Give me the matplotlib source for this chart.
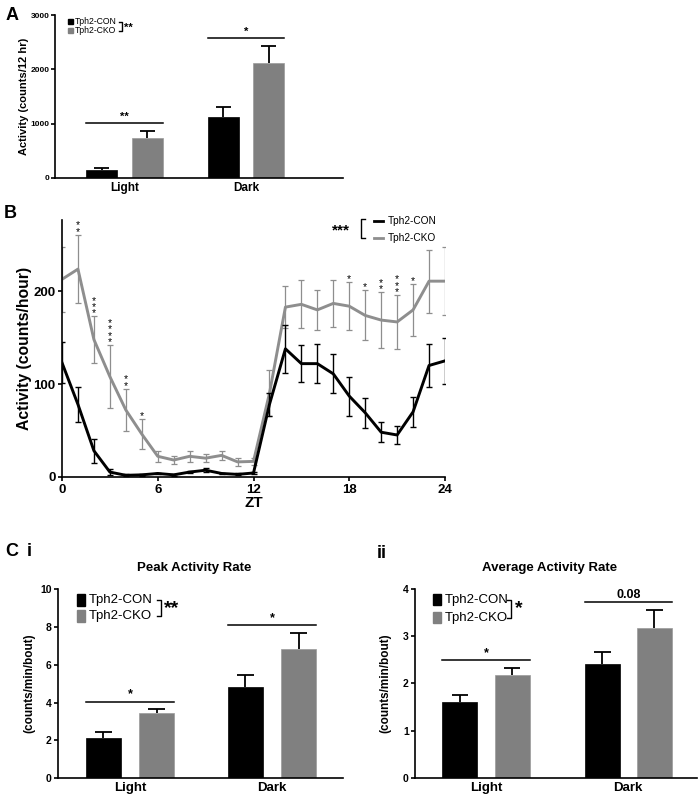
import matplotlib
matplotlib.use("Agg")
import matplotlib.pyplot as plt
from matplotlib.patches import Rectangle
from matplotlib.lines import Line2D
import numpy as np

plt.rcParams['font.family'] = ['Liberation Sans', 'DejaVu Sans']

# ---------------- data ----------------
groups = ["Light", "Dark"]
series = ["Tph2-CON", "Tph2-CKO"]

# Panel A: activity (counts/12 hr)
a_con = [141, 1120]
a_con_sem = [43, 190]
a_cko = [735, 2125]
a_cko_sem = [122, 300]
a_sig = ["**", "*"]
a_sig_y = [1010, 2572]

# Panel B: hourly activity
zt = list(range(25))
b_con = [123, 78, 28, 5, 1.5, 2, 3.5, 2, 5, 7, 3.5, 2.5, 4, 78,
         138, 122, 122, 111, 87, 69, 48, 45, 70, 120, 125]
b_con_sem = [22, 19, 13, 3, 1, 1, 1, 1, 1.5, 2, 1, 1, 1.5, 12,
             26, 20, 21, 21, 21, 16, 11, 10, 16, 23, 25]
b_cko = [213, 224, 148, 108, 72, 46, 22, 18, 22, 20, 23, 16, 16.5, 90,
         183, 186, 180, 187, 184, 174, 169, 167, 180, 211, 211]
b_cko_sem = [35, 37, 25, 34, 23, 16, 6, 4, 6, 4, 5, 4, 4, 25,
             23, 26, 22, 25, 26, 27, 30, 29, 28, 34, 37]
b_sig_x = [1, 2, 3, 4, 5, 18, 19, 20, 21, 22]
b_sig = ["**", "***", "****", "**", "*", "*", "*", "**", "***", "*"]
b_overall = "***"

# Panel C i: peak activity rate
ci_con = [2.15, 4.84]
ci_con_sem = [0.28, 0.60]
ci_cko = [3.43, 6.85]
ci_cko_sem = [0.25, 0.84]
ci_sig = ["*", "*"]
ci_sig_y = [4.03, 8.08]
ci_overall = "**"

# Panel C ii: average activity rate
cii_con = [1.61, 2.40]
cii_con_sem = [0.14, 0.26]
cii_cko = [2.18, 3.18]
cii_cko_sem = [0.14, 0.37]
cii_sig = ["*", "0.08"]
cii_sig_y = [2.49, 3.72]
cii_overall = "*"

BLACK = "#000000"
GRAY = "#808080"
LGRAY = "#8e8e8e"

W, H = 700, 797
fig = plt.figure(figsize=(W / 100, H / 100), dpi=100)


def P(x, y):
    return (x / W, 1 - y / H)


def add_ax(l, t, r, b):
    return fig.add_axes([l / W, 1 - b / H, (r - l) / W, (b - t) / H])


def style(ax, tick_fs, lw=1.2):
    for s in ["top", "right"]:
        ax.spines[s].set_visible(False)
    for s in ["left", "bottom"]:
        ax.spines[s].set_linewidth(lw)
    ax.tick_params(direction="out", width=lw, length=3, labelsize=tick_fs, pad=1.5)
    for lab in ax.get_xticklabels() + ax.get_yticklabels():
        lab.set_fontweight("bold")


def bar_panel(ax, con, con_sem, cko, cko_sem, offset, width, xlim, ylim, yticks,
              sig, sig_y, sig_fs, tick_fs, xtick_fs):
    x = np.arange(len(groups))
    capw = width * 0.24
    for xs, vals, sems, col, ec in [(x - offset, con, con_sem, BLACK, BLACK),
                                    (x + offset, cko, cko_sem, GRAY, "#9a9a9a")]:
        ax.bar(xs, vals, width, color=col, edgecolor=ec, lw=0.5, zorder=2)
        tops = np.array(vals) + np.array(sems)
        ax.vlines(xs, vals, tops, color=BLACK, lw=1.3, zorder=1)
        ax.hlines(tops, xs - capw, xs + capw, color=BLACK, lw=1.3, zorder=1)
    for i, (s, yy) in enumerate(zip(sig, sig_y)):
        ax.plot([x[i] - offset - width / 2, x[i] + offset + width / 2], [yy, yy],
                color=BLACK, lw=1.1, clip_on=False)
        ax.annotate(s, (x[i], yy), xytext=(0, 1), textcoords="offset points",
                    ha="center", va="bottom", fontsize=sig_fs, fontweight="bold")
    ax.set_xlim(*xlim)
    ax.set_ylim(*ylim)
    ax.set_yticks(yticks)
    ax.set_xticks(x)
    ax.set_xticklabels(groups)
    style(ax, tick_fs)
    ax.tick_params(axis="x", length=0, labelsize=xtick_fs, pad=3)
    for lab in ax.get_xticklabels():
        lab.set_fontweight("bold")


def bar_legend(x_sq, sq_w, sq_h, y_rows, x_text, x_br, x_star, y_star, fs, star, star_fs):
    for yy, col, name in zip(y_rows, [BLACK, GRAY], series):
        fig.patches.append(Rectangle(P(x_sq, yy + sq_h / 2), sq_w / W, sq_h / H,
                                     transform=fig.transFigure, color=col))
        fig.text(*P(x_text, yy), name, fontsize=fs, va="center", ha="left")
    xs = [x_br - 4, x_br, x_br, x_br - 4]
    ys = [y_rows[0], y_rows[0], y_rows[1], y_rows[1]]
    fig.lines.append(Line2D([v / W for v in xs], [1 - v / H for v in ys],
                            transform=fig.transFigure, color=BLACK, lw=1.0))
    fig.text(*P(x_star, y_star), star, fontsize=star_fs, fontweight="bold",
             va="center", ha="left")


# ---------------- Panel A ----------------
axA = add_ax(55, 15, 343, 178)
bar_panel(axA, a_con, a_con_sem, a_cko, a_cko_sem, offset=0.1875, width=0.255,
          xlim=(-0.572, 1.798), ylim=(0, 3000), yticks=[0, 1000, 2000, 3000],
          sig=a_sig, sig_y=a_sig_y, sig_fs=8, tick_fs=6, xtick_fs=8.5)
axA.tick_params(axis="y", pad=1)
axA.set_ylabel("Activity (counts/12 hr)", fontsize=8, fontweight="bold")
axA.yaxis.set_label_coords(-0.092, 0.5)
bar_legend(x_sq=68, sq_w=4.5, sq_h=5, y_rows=[21.5, 30.5], x_text=75, x_br=122.5,
           x_star=124.5, y_star=27.5, fs=6.2, star="**", star_fs=8)
fig.text(*P(6, 16), "A", fontsize=13, fontweight="bold", va="center", ha="left")

# ---------------- Panel B ----------------
axB = add_ax(62, 220, 445, 476.7)
axB.errorbar(zt, b_cko, yerr=b_cko_sem, color=LGRAY, lw=2.1, elinewidth=0.9,
             capsize=2.5, capthick=0.9, zorder=2)
axB.errorbar(zt, b_con, yerr=b_con_sem, color=BLACK, lw=2.1, elinewidth=1.0,
             capsize=2.5, capthick=1.0, zorder=3)
for xx, s in zip(b_sig_x, b_sig):
    top = b_cko[xx] + b_cko_sem[xx]
    axB.annotate("\n".join(s), (xx, top), xytext=(0, -1.5), textcoords="offset points",
                 ha="center", va="bottom", fontsize=7.5, linespacing=0.55)
axB.set_xlim(0, 24)
axB.set_ylim(0, 277)
axB.set_xticks([0, 6, 12, 18, 24])
axB.set_yticks([0, 100, 200])
style(axB, 9.5)
axB.tick_params(axis="x", pad=2)
axB.set_ylabel("Activity (counts/hour)", fontsize=11.3, fontweight="bold")
axB.yaxis.set_label_coords(-0.079, 0.5)
axB.set_xlabel("ZT", fontsize=11, fontweight="bold")
axB.xaxis.set_label_coords(0.5, -0.077)
# legend B
fig.text(*P(332, 230), b_overall, fontsize=11, fontweight="bold", va="center", ha="left")
fig.lines.append(Line2D([365 / W, 360.7 / W, 360.7 / W, 365 / W],
                        [1 - 219 / H, 1 - 219 / H, 1 - 238.3 / H, 1 - 238.3 / H],
                        transform=fig.transFigure, color=BLACK, lw=1.0))
for yy, col, name in zip([220.5, 237.7], [BLACK, LGRAY], series):
    fig.lines.append(Line2D([374 / W, 383 / W], [1 - yy / H, 1 - yy / H],
                            transform=fig.transFigure, color=col, lw=2.0))
    fig.text(*P(388, yy), name, fontsize=7.3, va="center", ha="left")
fig.text(*P(4, 213), "B", fontsize=13, fontweight="bold", va="center", ha="left")

# ---------------- Panel C i ----------------
axC1 = add_ax(58, 589, 343, 778.3)
bar_panel(axC1, ci_con, ci_con_sem, ci_cko, ci_cko_sem, offset=0.1875, width=0.247,
          xlim=(-0.508, 1.50), ylim=(0, 10), yticks=[0, 2, 4, 6, 8, 10],
          sig=ci_sig, sig_y=ci_sig_y, sig_fs=9, tick_fs=7.5, xtick_fs=9.5)
axC1.set_ylabel("(counts/min/bout)", fontsize=8.5, fontweight="bold")
axC1.yaxis.set_label_coords(-0.081, 0.5)
fig.text(*P(194, 568), "Peak Activity Rate", fontsize=9.5, fontweight="bold",
         ha="center", va="center")
bar_legend(x_sq=77.3, sq_w=7.7, sq_h=11.5, y_rows=[600, 616], x_text=88.5, x_br=161,
           x_star=164, y_star=608.5, fs=9.5, star=ci_overall, star_fs=14)
fig.text(*P(5, 551), "C", fontsize=13, fontweight="bold", va="center", ha="left")
fig.text(*P(27, 551), "i", fontsize=13, fontweight="bold", va="center", ha="left")

# ---------------- Panel C ii ----------------
axC2 = add_ax(415, 588.7, 697, 778)
bar_panel(axC2, cii_con, cii_con_sem, cii_cko, cii_cko_sem, offset=0.183, width=0.246,
          xlim=(-0.499, 1.483), ylim=(0, 4), yticks=[0, 1, 2, 3, 4],
          sig=cii_sig, sig_y=cii_sig_y, sig_fs=9, tick_fs=7.5, xtick_fs=9.5)
axC2.set_ylabel("(counts/min/bout)", fontsize=8.5, fontweight="bold")
axC2.yaxis.set_label_coords(-0.083, 0.5)
fig.text(*P(550, 568), "Average Activity Rate", fontsize=9.5, fontweight="bold",
         ha="center", va="center")
bar_legend(x_sq=432.7, sq_w=8, sq_h=11.5, y_rows=[599.5, 617.5], x_text=444.5, x_br=511,
           x_star=514.5, y_star=609, fs=9.5, star=cii_overall, star_fs=14)
fig.text(*P(377, 553), "ii", fontsize=13, fontweight="bold", va="center", ha="left")

fig.savefig("out.png", dpi=100)
